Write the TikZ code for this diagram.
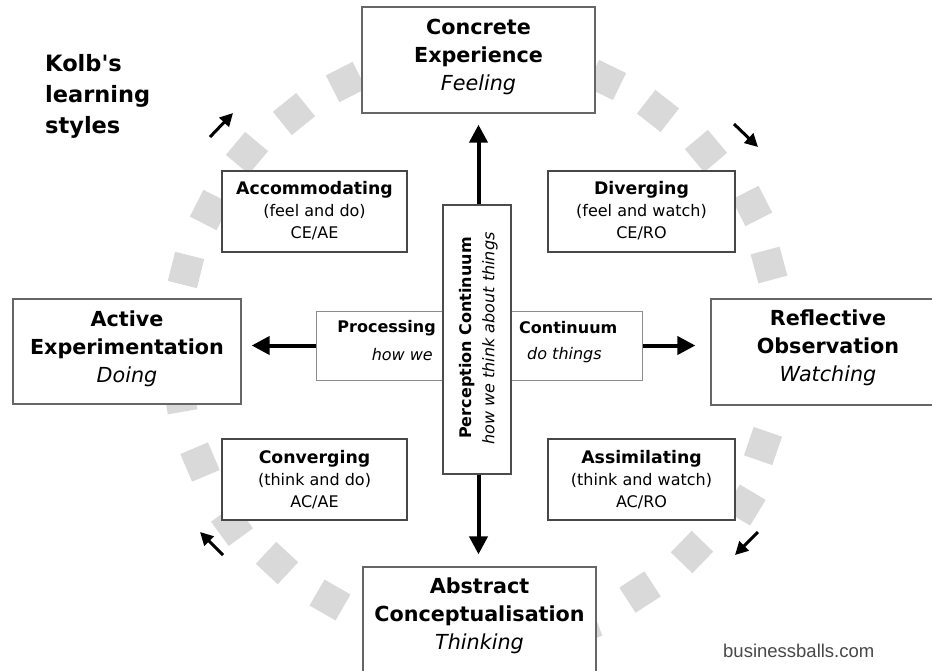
\documentclass[tikz,border=0pt]{standalone}
\usepackage{fontspec}
\setmainfont{DejaVu Sans}
\newfontfamily\dvplain{DejaVu Sans}
\newfontfamily\libsans{Liberation Sans}
\usetikzlibrary{arrows.meta}
\begin{document}
\begin{tikzpicture}[x=1pt,y=-1pt,
  sq/.style={rectangle, fill=gray!30, minimum size=30pt, inner sep=0pt},
  bigbox/.style={rectangle, draw=black!60, line width=1.3pt, fill=white, inner sep=0pt},
  smallbox/.style={rectangle, draw=black!72, line width=1.2pt, fill=white, inner sep=0pt},
  midbox/.style={rectangle, draw=black!45, line width=1pt, fill=white, inner sep=0pt},
  percbox/.style={rectangle, draw=black!70, line width=1.3pt, fill=white, inner sep=0pt},
  bigtext/.style={align=center, inner sep=0pt, font=\fontsize{20.7}{28}\selectfont},
  smalltext/.style={align=center, inner sep=0pt, font=\fontsize{16}{22}\selectfont},
  midtext/.style={inner sep=0pt, font=\fontsize{16}{20}\selectfont},
  bigarrow/.style={line width=4pt, -{Triangle[length=18pt,width=18pt]}},
  cyclearrow/.style={line width=3pt, -{Triangle[length=13pt,width=13pt]}}
]
\newcommand{\stitle}[1]{{\fontsize{17.3}{22}\selectfont\bfseries #1}}
\useasboundingbox (0,0) rectangle (932,670);
\clip (0,0) rectangle (932,670);

% grey squares of the cycle
\foreach \px/\py/\ang in {346/82/117, 294/114/129, 247/153/140, 210/210/153, 186/270/166,
  180/397/190, 200/462/203, 232/525/216, 277/563/227, 330/600/240,
  606/80/64, 658/111/52, 706/151/40, 752/206/27, 769/265/15,
  763/446/-19, 745/505/-31, 692/552/-44, 640/592/-57, 583/627/-69}
  \node[sq, rotate=\ang] at (\px,\py) {};

% main boxes
\node[bigbox, minimum width=233pt, minimum height=106pt] (ce) at (478.5,60) {};
\node[bigtext] (cet) at (478.5,56.5) {\textbf{Concrete}\\\textbf{Experience}\\\textit{Feeling}};

\node[bigbox, minimum width=228pt, minimum height=105pt] (ae) at (127,351.5) {};
\node[bigtext] (aet) at (127,348.5) {\textbf{Active}\\\textbf{Experimentation}\\\textit{Doing}};

\node[bigbox, minimum width=249pt, minimum height=106pt] (ro) at (835.5,352) {};
\node[bigtext] (rot) at (828,348) {\textbf{Reflective}\\\textbf{Observation}\\\textit{Watching}};

\node[bigbox, minimum width=233pt, minimum height=140pt] (ac) at (479.5,637) {};
\node[bigtext] (act) at (479.5,615.5) {\textbf{Abstract}\\\textbf{Conceptualisation}\\\textit{Thinking}};

% learning style boxes
\node[smallbox, minimum width=185pt, minimum height=81pt] (acc) at (314.5,211.5) {};
\node[smalltext] (acct) at (314.5,211) {\stitle{Accommodating}\\(feel and do)\\CE/AE};

\node[smallbox, minimum width=187pt, minimum height=81pt] (div) at (641.5,211.5) {};
\node[smalltext] (divt) at (641.5,211) {\stitle{Diverging}\\(feel and watch)\\CE/RO};

\node[smallbox, minimum width=185pt, minimum height=81pt] (conv) at (314.5,479.5) {};
\node[smalltext] (convt) at (314.5,479.5) {\stitle{Converging}\\(think and do)\\AC/AE};

\node[smallbox, minimum width=187pt, minimum height=81pt] (assim) at (641.5,479.5) {};
\node[smalltext] (assimt) at (641.5,479.5) {\stitle{Assimilating}\\(think and watch)\\AC/RO};

% continua
\node[midbox, minimum width=127pt, minimum height=69pt] (proc) at (379.5,345.5) {};
\node[midbox, minimum width=131pt, minimum height=69pt] (cont) at (576.5,345.5) {};
\node[percbox, minimum width=68pt, minimum height=269pt] (perc) at (477,339.5) {};

\node[midtext, anchor=east] (proct) at (436,328) {\textbf{Processing}};
\node[midtext, anchor=east] (howwe) at (433,355) {\textit{how we}};
\node[midtext, anchor=west] (contt) at (519,328) {\textbf{Continuum}};
\node[midtext, anchor=west] (dothings) at (527,355) {\textit{do things}};

\node[midtext, rotate=90] (perct) at (467,338) {\textbf{Perception Continuum}};
\node[midtext, rotate=90] (perct2) at (490,338.5) {\textit{how we think about things}};

% title and credit
\node[anchor=west, align=left, inner sep=0pt, font=\dvplain\fontsize{22.5}{31}\selectfont\bfseries] (title) at (45,96) {Kolb's\\learning\\styles};
\node[anchor=west, inner sep=0pt, text=black!72, font=\libsans\fontsize{18.5}{22}\selectfont] (credit) at (723,651) {businessballs.com};

% main arrows
\draw[bigarrow, shorten >=11pt] ([xshift=1.5pt]perc.north) -- ([xshift=1.5pt]perc.north |- ce.south);
\draw[bigarrow, shorten >=12pt] ([xshift=1.5pt]perc.south) -- ([xshift=1.5pt]perc.south |- ac.north);
\draw[bigarrow, shorten >=10pt] (proc.west) -- (proc.west -| ae.east);
\draw[bigarrow, shorten >=15pt] (cont.east) -- (cont.east -| ro.west);

% cycle arrows
\coordinate (a1s) at (210,137); \coordinate (a1e) at (233,113);
\coordinate (a2s) at (734,124); \coordinate (a2e) at (758,147);
\coordinate (a3s) at (758,532); \coordinate (a3e) at (735,555);
\coordinate (a4s) at (223,555); \coordinate (a4e) at (200,532);
\draw[cyclearrow] (a1s) -- (a1e);
\draw[cyclearrow] (a2s) -- (a2e);
\draw[cyclearrow] (a3s) -- (a3e);
\draw[cyclearrow] (a4s) -- (a4e);
\end{tikzpicture}
\end{document}
